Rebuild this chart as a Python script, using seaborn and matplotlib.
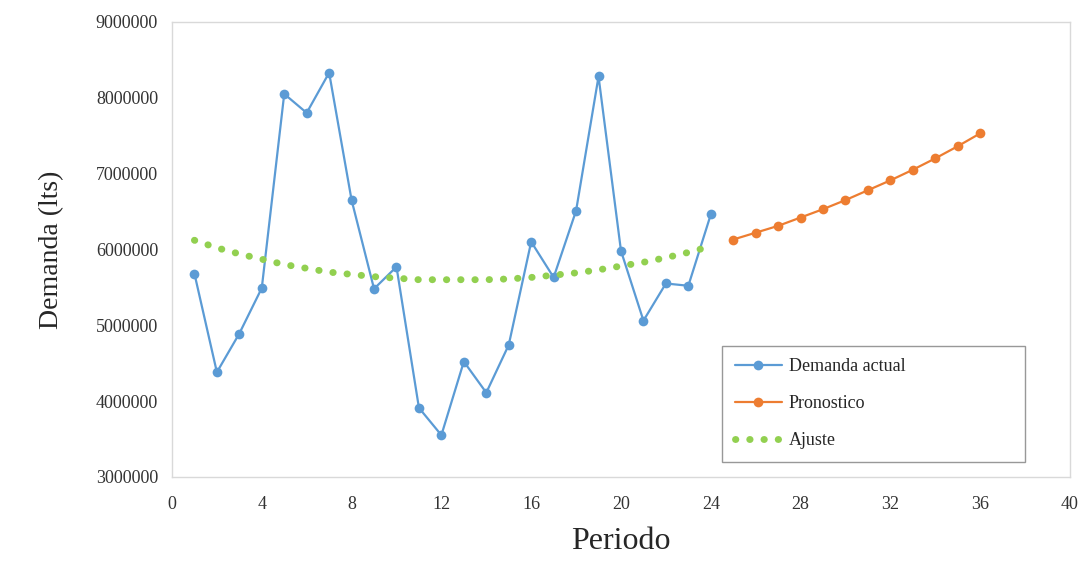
import matplotlib
matplotlib.use("Agg")
import matplotlib.pyplot as plt
import seaborn as sns
import pandas as pd

periodo_actual = list(range(1, 25))
demanda_actual = [5680000, 4380000, 4890000, 5490000, 8050000, 7800000, 8330000, 6650000,
                  5480000, 5770000, 3910000, 3550000, 4520000, 4110000, 4740000, 6100000,
                  5630000, 6510000, 8280000, 5980000, 5060000, 5550000, 5520000, 6460000]

periodo_pron = list(range(25, 37))
pronostico = [6130000, 6220000, 6310000, 6420000, 6530000, 6650000, 6780000, 6910000,
              7050000, 7200000, 7360000, 7530000]

ajuste = [6120000, 6020000, 5940000, 5870000, 5800000, 5750000, 5700000, 5670000,
          5640000, 5620000, 5600000, 5600000, 5600000, 5600000, 5610000, 5630000,
          5660000, 5690000, 5730000, 5780000, 5830000, 5890000, 5960000, 6040000]

x_ticks = [0, 4, 8, 12, 16, 20, 24, 28, 32, 36, 40]
y_ticks = [3000000, 4000000, 5000000, 6000000, 7000000, 8000000, 9000000]

sns.set_theme(style="white")
plt.rcParams['font.family'] = ['Liberation Serif', 'DejaVu Serif']

fig = plt.figure(figsize=(10.83, 5.61), dpi=100)
ax = fig.add_axes([0.1588, 0.150, 0.8292, 0.811])

df_a = pd.DataFrame({"Periodo": periodo_actual, "Demanda": demanda_actual})
df_p = pd.DataFrame({"Periodo": periodo_pron, "Demanda": pronostico})
df_j = pd.DataFrame({"Periodo": periodo_actual, "Demanda": ajuste})

sns.lineplot(data=df_a, x="Periodo", y="Demanda", ax=ax, color="#5B9BD5", marker="o",
             markersize=7, markeredgewidth=0, linewidth=1.6, label="Demanda actual")
sns.lineplot(data=df_p, x="Periodo", y="Demanda", ax=ax, color="#ED7D31", marker="o",
             markersize=7, markeredgewidth=0, linewidth=1.6, label="Pronostico")
sns.lineplot(data=df_j, x="Periodo", y="Demanda", ax=ax, color="#92D050",
             linewidth=5, linestyle=(0, (0.05, 2.0)), dash_capstyle="round", label="Ajuste")

ax.set_xlim(0, 40)
ax.set_ylim(3000000, 9000000)
ax.set_xticks(x_ticks)
ax.set_xticklabels([str(v) for v in x_ticks])
ax.set_yticks(y_ticks)
ax.set_yticklabels([str(v) for v in y_ticks])
ax.tick_params(axis="y", labelsize=13, colors="#333333", length=0, pad=10)
ax.tick_params(axis="x", labelsize=13, colors="#333333", length=0, pad=14)
ax.set_xlabel("Periodo", fontsize=23, color="#262626", labelpad=10)
ax.set_ylabel("Demanda (lts)", fontsize=20, color="#262626", labelpad=23)
for s in ax.spines.values():
    s.set_color("#D9D9D9")
    s.set_linewidth(1.0)
ax.grid(False)

leg = ax.legend(loc="lower left", bbox_to_anchor=(0.6125, 0.033, 0.3375, 0.2615), mode="expand",
                borderaxespad=0, fontsize=13, frameon=True, fancybox=False, borderpad=0.7,
                labelspacing=1.1, handlelength=2.6, handletextpad=0.4)
leg.get_frame().set_edgecolor("#7F7F7F")
leg.get_frame().set_linewidth(1.0)
for t in leg.get_texts():
    t.set_color("#262626")

fig.savefig("out.png", dpi=100, facecolor="white")
